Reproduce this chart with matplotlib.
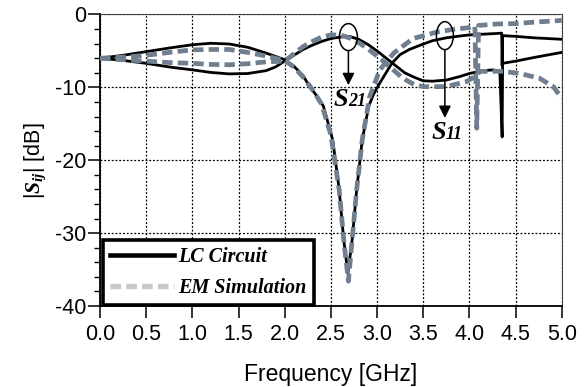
import numpy as np
import matplotlib
matplotlib.use("Agg")
import matplotlib.pyplot as plt
from matplotlib.patches import Ellipse
from matplotlib.lines import Line2D

# LC circuit, curve that peaks near 1.3 GHz then dips at 2.7 GHz
lc_a_f = [0, 0.25, 0.5, 0.75, 1.0, 1.2, 1.4, 1.6, 1.8, 2.0, 2.1, 2.2, 2.27, 2.35, 2.42,
          2.52, 2.59, 2.64, 2.685, 2.73, 2.78, 2.84, 2.91, 2.96, 3.03, 3.16, 3.25, 3.35,
          3.47, 3.6, 3.75, 3.9, 4.0, 4.15, 4.3, 4.35, 4.355, 4.36, 4.5, 4.7, 5.0]
lc_a_db = [-6.0, -5.6, -5.1, -4.6, -4.15, -3.95, -4.05, -4.5, -5.3, -6.2, -7.1, -8.4, -9.9, -11.2, -12.6,
           -17.2, -24.0, -31.0, -35.5, -31.0, -24.0, -17.2, -12.6, -11.0, -9.4, -6.7, -5.5, -4.8,
           -4.2, -3.6, -3.2, -2.95, -2.8, -2.7, -2.6, -2.55, -7.0, -2.9, -3.0, -3.2, -3.4]

# LC circuit, other curve (dips near 1.4 GHz, peaks at 2.7 GHz)
lc_b_f = [0, 0.25, 0.5, 0.75, 1.0, 1.2, 1.4, 1.6, 1.8, 1.9, 2.0, 2.1, 2.2, 2.3, 2.4, 2.5,
          2.6, 2.7, 2.8, 2.9, 3.0, 3.1, 3.17, 3.3, 3.4, 3.5, 3.6, 3.75, 3.9, 4.0, 4.15,
          4.26, 4.33, 4.355, 4.36, 4.5, 4.7, 5.0]
lc_b_db = [-6.0, -6.3, -6.7, -7.2, -7.6, -7.95, -8.15, -8.1, -7.7, -7.2, -6.4, -5.6, -4.8, -4.2, -3.7, -3.3,
           -3.1, -3.0, -3.4, -4.1, -5.0, -6.0, -6.7, -8.0, -8.6, -9.1, -9.15, -9.0, -8.5, -8.1, -7.7,
           -7.6, -7.8, -16.8, -6.7, -6.4, -5.9, -5.2]

# EM simulation, dip curve
em_a_f = [0, 0.25, 0.5, 0.75, 1.0, 1.2, 1.4, 1.6, 1.8, 2.0, 2.1, 2.2, 2.3, 2.4, 2.5,
          2.59, 2.64, 2.69, 2.73, 2.78, 2.84, 2.92, 3.03, 3.18, 3.39, 3.65, 3.85, 4.0,
          4.06, 4.08, 4.10, 4.3, 4.5, 4.7, 4.9, 5.0]
em_a_db = [-6.0, -5.85, -5.6, -5.2, -4.85, -4.8, -4.8, -5.2, -5.7, -6.3, -7.2, -8.6, -10.3, -12.3, -16.5,
           -24.0, -31.0, -36.6, -31.0, -24.0, -17.2, -11.3, -7.6, -5.3, -3.3, -2.4, -2.0, -1.8,
           -1.6, -15.6, -1.5, -1.3, -1.25, -1.05, -0.9, -0.8]

# EM simulation, other curve
em_b_f = [0, 0.25, 0.5, 0.75, 1.0, 1.2, 1.4, 1.6, 1.8, 2.0, 2.1, 2.2, 2.3, 2.4, 2.5,
          2.6, 2.7, 2.82, 2.92, 3.03, 3.14, 3.28, 3.4, 3.5, 3.75, 3.97, 4.05, 4.12,
          4.37, 4.55, 4.76, 4.91, 5.0]
em_b_db = [-6.0, -6.2, -6.4, -6.6, -6.7, -6.85, -6.9, -6.75, -6.5, -6.4, -5.4, -4.4, -3.7, -3.1, -2.8,
           -2.8, -3.2, -4.0, -4.9, -6.0, -7.2, -8.75, -9.6, -9.9, -9.9, -9.2, -8.6, -7.8,
           -7.8, -8.1, -8.75, -9.9, -11.5]

x_ticks = [0.0, 0.5, 1.0, 1.5, 2.0, 2.5, 3.0, 3.5, 4.0, 4.5, 5.0]
y_ticks = [-40, -30, -20, -10, 0]

plt.rcParams['font.family'] = ['Liberation Sans', 'DejaVu Sans']
plt.rcParams['axes.unicode_minus'] = False
plt.rcParams['mathtext.fontset'] = 'custom'
plt.rcParams['mathtext.it'] = 'Liberation Serif:italic:bold'
plt.rcParams['mathtext.rm'] = 'Liberation Sans'

gray = '#6f7f8f'
serif_bi = dict(family='Liberation Serif', style='italic', weight='bold')

fig = plt.figure(figsize=(5.84, 3.87), dpi=100)
ax = fig.add_axes([100 / 584, 1 - 306 / 387, 461.7 / 584, 291.5 / 387])

ax.plot(lc_a_f, lc_a_db, color='black', lw=2.0, zorder=3)
ax.plot(lc_b_f, lc_b_db, color='black', lw=2.0, zorder=3)
ax.plot(em_a_f, em_a_db, color=gray, lw=3.4, ls=(0, (2.2, 1.1)), zorder=4)
ax.plot(em_b_f, em_b_db, color=gray, lw=3.4, ls=(0, (2.2, 1.1)), zorder=4)

ax.set_xlim(0, 5)
ax.set_ylim(-40, 0)
ax.set_xticks(x_ticks)
ax.set_xticklabels([f'{v:.1f}' for v in x_ticks])
ax.set_yticks(y_ticks)
ax.set_yticks(np.arange(-40, 0, 2), minor=True)
ax.tick_params(axis='both', which='major', direction='out', length=8.6, width=1.1,
               labelsize=15.5, color='black')
ax.tick_params(axis='x', pad=4)
ax.tick_params(axis='y', pad=1)
ax.tick_params(axis='y', which='minor', direction='out', length=4.3, width=1.0)
ax.grid(True, which='major', color='black', ls=(0, (1.5, 1.5)), lw=0.9)

for s in ['left', 'bottom']:
    ax.spines[s].set_linewidth(1.3)
for s in ['top', 'right']:
    ax.spines[s].set_linewidth(0.8)
    ax.spines[s].set_color('#444444')

ax.set_xlabel('Frequency [GHz]', fontsize=16.5, labelpad=13)
ax.set_ylabel(r'|$S_{ij}$| [dB]', fontsize=15.5, labelpad=5)

# annotations: ellipses and arrows
ax.add_patch(Ellipse((2.69, -3.1), 0.195, 3.7, fill=False, ec='black', lw=1.1, zorder=5))
ax.add_patch(Ellipse((3.735, -2.9), 0.184, 3.84, fill=False, ec='black', lw=1.1, zorder=5))
ax.annotate('', xy=(2.69, -9.7), xytext=(2.69, -4.95),
            arrowprops=dict(arrowstyle='-|>', color='black', lw=1.1,
                            mutation_scale=18, shrinkA=0, shrinkB=0), zorder=5)
ax.annotate('', xy=(3.735, -14.2), xytext=(3.735, -4.82),
            arrowprops=dict(arrowstyle='-|>', color='black', lw=1.1,
                            mutation_scale=18, shrinkA=0, shrinkB=0), zorder=5)

ax.text(2.686, -12.5, 'S', ha='right', va='baseline', fontsize=19, zorder=6, **serif_bi)
ax.text(2.686, -12.5, '21', ha='left', va='baseline', fontsize=13, zorder=6, **serif_bi)
ax.text(3.747, -17.1, 'S', ha='right', va='baseline', fontsize=19, zorder=6, **serif_bi)
ax.text(3.747, -17.1, '11', ha='left', va='baseline', fontsize=13, zorder=6, **serif_bi)

handles = [Line2D([], [], color='black', lw=3.3),
           Line2D([], [], color='#c8c8c8', lw=3.8, ls=(0, (2.0, 1.0)))]
leg = ax.legend(handles, ['LC Circuit', 'EM Simulation'], loc='lower left',
                bbox_to_anchor=(0.0065, 0.003), borderaxespad=0, fancybox=False,
                framealpha=1, edgecolor='black', handlelength=3.2, handletextpad=0.2,
                borderpad=0.35, labelspacing=0.55,
                prop=dict(family='Liberation Serif', style='italic', weight='bold', size=14.5))
leg.get_frame().set_linewidth(2.6)
leg.set_zorder(10)

fig.savefig('out.png', dpi=100)
